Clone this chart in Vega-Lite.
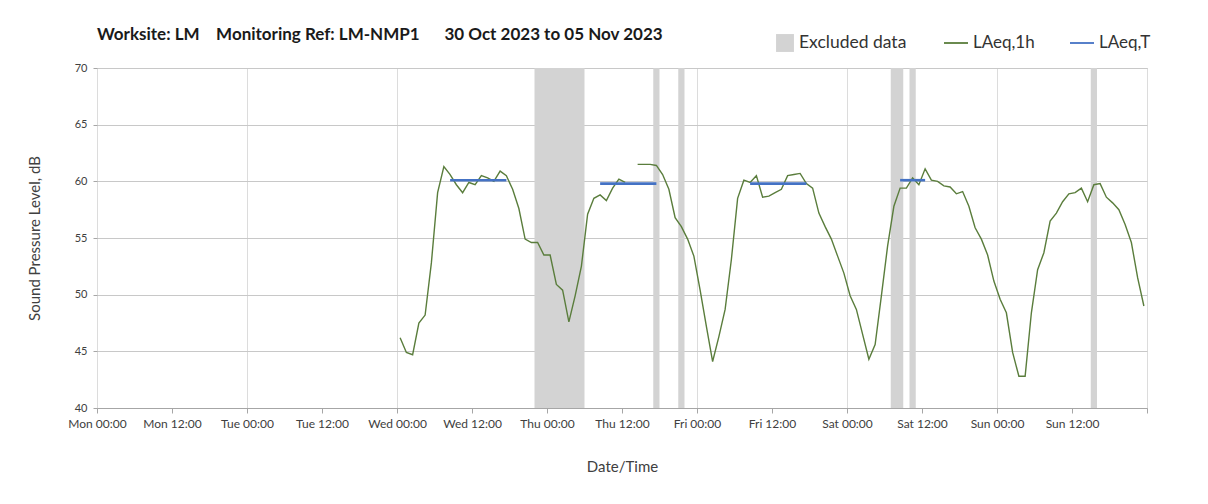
{
  "$schema": "https://vega.github.io/schema/vega-lite/v6.json",
  "width": 1050,
  "height": 340,
  "autosize": {"type": "none"},
  "padding": {"left": 97, "top": 68, "right": 61, "bottom": 96},
  "background": "white",
  "title": {
    "text": "Worksite: LM\u00a0\u00a0\u00a0\u00a0Monitoring Ref: LM-NMP1\u00a0\u00a0\u00a0\u00a0\u00a0\u00a030 Oct 2023 to 05 Nov 2023",
    "anchor": "start",
    "frame": "group",
    "font": "Lato",
    "fontSize": 17,
    "fontWeight": "bold",
    "color": "#1a1a1a",
    "offset": 16,
    "dy": 30
  },
  "config": {
    "font": "Lato",
    "view": {"stroke": "#bfbfbf", "strokeWidth": 1},
    "axis": {
      "labelFont": "Lato",
      "titleFont": "Lato",
      "labelColor": "#404040",
      "titleColor": "#404040",
      "titleFontWeight": "normal",
      "domainColor": "#a6a6a6",
      "tickColor": "#a6a6a6"
    }
  },
  "datasets": {
    "excluded": [
      {"start": "2023-11-01T22:00:00Z", "end": "2023-11-02T06:00:00Z", "kind": "Excluded data"},
      {"start": "2023-11-02T17:00:00Z", "end": "2023-11-02T18:00:00Z", "kind": "Excluded data"},
      {"start": "2023-11-02T21:00:00Z", "end": "2023-11-02T22:00:00Z", "kind": "Excluded data"},
      {"start": "2023-11-04T07:00:00Z", "end": "2023-11-04T09:00:00Z", "kind": "Excluded data"},
      {"start": "2023-11-04T10:00:00Z", "end": "2023-11-04T11:00:00Z", "kind": "Excluded data"},
      {"start": "2023-11-05T15:00:00Z", "end": "2023-11-05T16:00:00Z", "kind": "Excluded data"}
    ],
    "laeqT": [
      {"t": "2023-11-01T08:30:00Z", "v": 60.1, "series": "LAeq,T", "seg": "Wed"},
      {"t": "2023-11-01T17:30:00Z", "v": 60.1, "series": "LAeq,T", "seg": "Wed"},
      {"t": "2023-11-02T08:30:00Z", "v": 59.8, "series": "LAeq,T", "seg": "Thu"},
      {"t": "2023-11-02T17:30:00Z", "v": 59.8, "series": "LAeq,T", "seg": "Thu"},
      {"t": "2023-11-03T08:30:00Z", "v": 59.8, "series": "LAeq,T", "seg": "Fri"},
      {"t": "2023-11-03T17:30:00Z", "v": 59.8, "series": "LAeq,T", "seg": "Fri"},
      {"t": "2023-11-04T08:30:00Z", "v": 60.1, "series": "LAeq,T", "seg": "Sat"},
      {"t": "2023-11-04T12:30:00Z", "v": 60.1, "series": "LAeq,T", "seg": "Sat"}
    ],
    "laeq1h": [
      {"t": "2023-11-01T00:30:00Z", "v": 46.2, "series": "LAeq,1h", "seg": "a"},
      {"t": "2023-11-01T01:30:00Z", "v": 44.9, "series": "LAeq,1h", "seg": "a"},
      {"t": "2023-11-01T02:30:00Z", "v": 44.7, "series": "LAeq,1h", "seg": "a"},
      {"t": "2023-11-01T03:30:00Z", "v": 47.5, "series": "LAeq,1h", "seg": "a"},
      {"t": "2023-11-01T04:30:00Z", "v": 48.2, "series": "LAeq,1h", "seg": "a"},
      {"t": "2023-11-01T05:30:00Z", "v": 52.8, "series": "LAeq,1h", "seg": "a"},
      {"t": "2023-11-01T06:30:00Z", "v": 59.0, "series": "LAeq,1h", "seg": "a"},
      {"t": "2023-11-01T07:30:00Z", "v": 61.3, "series": "LAeq,1h", "seg": "a"},
      {"t": "2023-11-01T08:30:00Z", "v": 60.6, "series": "LAeq,1h", "seg": "a"},
      {"t": "2023-11-01T09:30:00Z", "v": 59.7, "series": "LAeq,1h", "seg": "a"},
      {"t": "2023-11-01T10:30:00Z", "v": 59.0, "series": "LAeq,1h", "seg": "a"},
      {"t": "2023-11-01T11:30:00Z", "v": 59.9, "series": "LAeq,1h", "seg": "a"},
      {"t": "2023-11-01T12:30:00Z", "v": 59.7, "series": "LAeq,1h", "seg": "a"},
      {"t": "2023-11-01T13:30:00Z", "v": 60.5, "series": "LAeq,1h", "seg": "a"},
      {"t": "2023-11-01T14:30:00Z", "v": 60.3, "series": "LAeq,1h", "seg": "a"},
      {"t": "2023-11-01T15:30:00Z", "v": 60.0, "series": "LAeq,1h", "seg": "a"},
      {"t": "2023-11-01T16:30:00Z", "v": 60.9, "series": "LAeq,1h", "seg": "a"},
      {"t": "2023-11-01T17:30:00Z", "v": 60.5, "series": "LAeq,1h", "seg": "a"},
      {"t": "2023-11-01T18:30:00Z", "v": 59.3, "series": "LAeq,1h", "seg": "a"},
      {"t": "2023-11-01T19:30:00Z", "v": 57.6, "series": "LAeq,1h", "seg": "a"},
      {"t": "2023-11-01T20:30:00Z", "v": 54.9, "series": "LAeq,1h", "seg": "a"},
      {"t": "2023-11-01T21:30:00Z", "v": 54.6, "series": "LAeq,1h", "seg": "a"},
      {"t": "2023-11-01T22:30:00Z", "v": 54.6, "series": "LAeq,1h", "seg": "a"},
      {"t": "2023-11-01T23:30:00Z", "v": 53.5, "series": "LAeq,1h", "seg": "a"},
      {"t": "2023-11-02T00:30:00Z", "v": 53.5, "series": "LAeq,1h", "seg": "a"},
      {"t": "2023-11-02T01:30:00Z", "v": 50.9, "series": "LAeq,1h", "seg": "a"},
      {"t": "2023-11-02T02:30:00Z", "v": 50.4, "series": "LAeq,1h", "seg": "a"},
      {"t": "2023-11-02T03:30:00Z", "v": 47.6, "series": "LAeq,1h", "seg": "a"},
      {"t": "2023-11-02T04:30:00Z", "v": 49.9, "series": "LAeq,1h", "seg": "a"},
      {"t": "2023-11-02T05:30:00Z", "v": 52.5, "series": "LAeq,1h", "seg": "a"},
      {"t": "2023-11-02T06:30:00Z", "v": 57.1, "series": "LAeq,1h", "seg": "a"},
      {"t": "2023-11-02T07:30:00Z", "v": 58.5, "series": "LAeq,1h", "seg": "a"},
      {"t": "2023-11-02T08:30:00Z", "v": 58.8, "series": "LAeq,1h", "seg": "a"},
      {"t": "2023-11-02T09:30:00Z", "v": 58.3, "series": "LAeq,1h", "seg": "a"},
      {"t": "2023-11-02T10:30:00Z", "v": 59.4, "series": "LAeq,1h", "seg": "a"},
      {"t": "2023-11-02T11:30:00Z", "v": 60.2, "series": "LAeq,1h", "seg": "a"},
      {"t": "2023-11-02T12:30:00Z", "v": 59.9, "series": "LAeq,1h", "seg": "a"},
      {"t": "2023-11-02T14:30:00Z", "v": 61.5, "series": "LAeq,1h", "seg": "b"},
      {"t": "2023-11-02T15:30:00Z", "v": 61.5, "series": "LAeq,1h", "seg": "b"},
      {"t": "2023-11-02T16:30:00Z", "v": 61.5, "series": "LAeq,1h", "seg": "b"},
      {"t": "2023-11-02T17:30:00Z", "v": 61.4, "series": "LAeq,1h", "seg": "b"},
      {"t": "2023-11-02T18:30:00Z", "v": 60.6, "series": "LAeq,1h", "seg": "b"},
      {"t": "2023-11-02T19:30:00Z", "v": 59.3, "series": "LAeq,1h", "seg": "b"},
      {"t": "2023-11-02T20:30:00Z", "v": 56.8, "series": "LAeq,1h", "seg": "b"},
      {"t": "2023-11-02T21:30:00Z", "v": 56.0, "series": "LAeq,1h", "seg": "b"},
      {"t": "2023-11-02T22:30:00Z", "v": 54.9, "series": "LAeq,1h", "seg": "b"},
      {"t": "2023-11-02T23:30:00Z", "v": 53.4, "series": "LAeq,1h", "seg": "b"},
      {"t": "2023-11-03T00:30:00Z", "v": 50.4, "series": "LAeq,1h", "seg": "b"},
      {"t": "2023-11-03T01:30:00Z", "v": 47.2, "series": "LAeq,1h", "seg": "b"},
      {"t": "2023-11-03T02:30:00Z", "v": 44.1, "series": "LAeq,1h", "seg": "b"},
      {"t": "2023-11-03T03:30:00Z", "v": 46.3, "series": "LAeq,1h", "seg": "b"},
      {"t": "2023-11-03T04:30:00Z", "v": 48.7, "series": "LAeq,1h", "seg": "b"},
      {"t": "2023-11-03T05:30:00Z", "v": 53.1, "series": "LAeq,1h", "seg": "b"},
      {"t": "2023-11-03T06:30:00Z", "v": 58.5, "series": "LAeq,1h", "seg": "b"},
      {"t": "2023-11-03T07:30:00Z", "v": 60.1, "series": "LAeq,1h", "seg": "b"},
      {"t": "2023-11-03T08:30:00Z", "v": 59.9, "series": "LAeq,1h", "seg": "b"},
      {"t": "2023-11-03T09:30:00Z", "v": 60.5, "series": "LAeq,1h", "seg": "b"},
      {"t": "2023-11-03T10:30:00Z", "v": 58.6, "series": "LAeq,1h", "seg": "b"},
      {"t": "2023-11-03T11:30:00Z", "v": 58.7, "series": "LAeq,1h", "seg": "b"},
      {"t": "2023-11-03T12:30:00Z", "v": 59.0, "series": "LAeq,1h", "seg": "b"},
      {"t": "2023-11-03T13:30:00Z", "v": 59.3, "series": "LAeq,1h", "seg": "b"},
      {"t": "2023-11-03T14:30:00Z", "v": 60.5, "series": "LAeq,1h", "seg": "b"},
      {"t": "2023-11-03T15:30:00Z", "v": 60.6, "series": "LAeq,1h", "seg": "b"},
      {"t": "2023-11-03T16:30:00Z", "v": 60.7, "series": "LAeq,1h", "seg": "b"},
      {"t": "2023-11-03T17:30:00Z", "v": 59.8, "series": "LAeq,1h", "seg": "b"},
      {"t": "2023-11-03T18:30:00Z", "v": 59.4, "series": "LAeq,1h", "seg": "b"},
      {"t": "2023-11-03T19:30:00Z", "v": 57.2, "series": "LAeq,1h", "seg": "b"},
      {"t": "2023-11-03T20:30:00Z", "v": 56.0, "series": "LAeq,1h", "seg": "b"},
      {"t": "2023-11-03T21:30:00Z", "v": 54.9, "series": "LAeq,1h", "seg": "b"},
      {"t": "2023-11-03T22:30:00Z", "v": 53.4, "series": "LAeq,1h", "seg": "b"},
      {"t": "2023-11-03T23:30:00Z", "v": 51.9, "series": "LAeq,1h", "seg": "b"},
      {"t": "2023-11-04T00:30:00Z", "v": 49.9, "series": "LAeq,1h", "seg": "b"},
      {"t": "2023-11-04T01:30:00Z", "v": 48.7, "series": "LAeq,1h", "seg": "b"},
      {"t": "2023-11-04T02:30:00Z", "v": 46.5, "series": "LAeq,1h", "seg": "b"},
      {"t": "2023-11-04T03:30:00Z", "v": 44.3, "series": "LAeq,1h", "seg": "b"},
      {"t": "2023-11-04T04:30:00Z", "v": 45.6, "series": "LAeq,1h", "seg": "b"},
      {"t": "2023-11-04T05:30:00Z", "v": 49.9, "series": "LAeq,1h", "seg": "b"},
      {"t": "2023-11-04T06:30:00Z", "v": 54.3, "series": "LAeq,1h", "seg": "b"},
      {"t": "2023-11-04T07:30:00Z", "v": 57.8, "series": "LAeq,1h", "seg": "b"},
      {"t": "2023-11-04T08:30:00Z", "v": 59.4, "series": "LAeq,1h", "seg": "b"},
      {"t": "2023-11-04T09:30:00Z", "v": 59.4, "series": "LAeq,1h", "seg": "b"},
      {"t": "2023-11-04T10:30:00Z", "v": 60.3, "series": "LAeq,1h", "seg": "b"},
      {"t": "2023-11-04T11:30:00Z", "v": 59.7, "series": "LAeq,1h", "seg": "b"},
      {"t": "2023-11-04T12:30:00Z", "v": 61.1, "series": "LAeq,1h", "seg": "b"},
      {"t": "2023-11-04T13:30:00Z", "v": 60.1, "series": "LAeq,1h", "seg": "b"},
      {"t": "2023-11-04T14:30:00Z", "v": 60.0, "series": "LAeq,1h", "seg": "b"},
      {"t": "2023-11-04T15:30:00Z", "v": 59.6, "series": "LAeq,1h", "seg": "b"},
      {"t": "2023-11-04T16:30:00Z", "v": 59.5, "series": "LAeq,1h", "seg": "b"},
      {"t": "2023-11-04T17:30:00Z", "v": 58.9, "series": "LAeq,1h", "seg": "b"},
      {"t": "2023-11-04T18:30:00Z", "v": 59.1, "series": "LAeq,1h", "seg": "b"},
      {"t": "2023-11-04T19:30:00Z", "v": 57.8, "series": "LAeq,1h", "seg": "b"},
      {"t": "2023-11-04T20:30:00Z", "v": 55.9, "series": "LAeq,1h", "seg": "b"},
      {"t": "2023-11-04T21:30:00Z", "v": 54.9, "series": "LAeq,1h", "seg": "b"},
      {"t": "2023-11-04T22:30:00Z", "v": 53.5, "series": "LAeq,1h", "seg": "b"},
      {"t": "2023-11-04T23:30:00Z", "v": 51.2, "series": "LAeq,1h", "seg": "b"},
      {"t": "2023-11-05T00:30:00Z", "v": 49.6, "series": "LAeq,1h", "seg": "b"},
      {"t": "2023-11-05T01:30:00Z", "v": 48.4, "series": "LAeq,1h", "seg": "b"},
      {"t": "2023-11-05T02:30:00Z", "v": 44.9, "series": "LAeq,1h", "seg": "b"},
      {"t": "2023-11-05T03:30:00Z", "v": 42.8, "series": "LAeq,1h", "seg": "b"},
      {"t": "2023-11-05T04:30:00Z", "v": 42.8, "series": "LAeq,1h", "seg": "b"},
      {"t": "2023-11-05T05:30:00Z", "v": 48.4, "series": "LAeq,1h", "seg": "b"},
      {"t": "2023-11-05T06:30:00Z", "v": 52.2, "series": "LAeq,1h", "seg": "b"},
      {"t": "2023-11-05T07:30:00Z", "v": 53.7, "series": "LAeq,1h", "seg": "b"},
      {"t": "2023-11-05T08:30:00Z", "v": 56.5, "series": "LAeq,1h", "seg": "b"},
      {"t": "2023-11-05T09:30:00Z", "v": 57.2, "series": "LAeq,1h", "seg": "b"},
      {"t": "2023-11-05T10:30:00Z", "v": 58.2, "series": "LAeq,1h", "seg": "b"},
      {"t": "2023-11-05T11:30:00Z", "v": 58.9, "series": "LAeq,1h", "seg": "b"},
      {"t": "2023-11-05T12:30:00Z", "v": 59.0, "series": "LAeq,1h", "seg": "b"},
      {"t": "2023-11-05T13:30:00Z", "v": 59.4, "series": "LAeq,1h", "seg": "b"},
      {"t": "2023-11-05T14:30:00Z", "v": 58.2, "series": "LAeq,1h", "seg": "b"},
      {"t": "2023-11-05T15:30:00Z", "v": 59.7, "series": "LAeq,1h", "seg": "b"},
      {"t": "2023-11-05T16:30:00Z", "v": 59.8, "series": "LAeq,1h", "seg": "b"},
      {"t": "2023-11-05T17:30:00Z", "v": 58.6, "series": "LAeq,1h", "seg": "b"},
      {"t": "2023-11-05T18:30:00Z", "v": 58.1, "series": "LAeq,1h", "seg": "b"},
      {"t": "2023-11-05T19:30:00Z", "v": 57.5, "series": "LAeq,1h", "seg": "b"},
      {"t": "2023-11-05T20:30:00Z", "v": 56.2, "series": "LAeq,1h", "seg": "b"},
      {"t": "2023-11-05T21:30:00Z", "v": 54.6, "series": "LAeq,1h", "seg": "b"},
      {"t": "2023-11-05T22:30:00Z", "v": 51.5, "series": "LAeq,1h", "seg": "b"},
      {"t": "2023-11-05T23:30:00Z", "v": 49.0, "series": "LAeq,1h", "seg": "b"}
    ]
  },
  "layer": [
    {
      "data": {"name": "excluded"},
      "mark": {"type": "rect"},
      "encoding": {
        "x": {
          "field": "start", "type": "temporal",
          "scale": {"type": "utc", "domain": [{"year": 2023, "month": 10, "date": 30, "utc": true}, {"year": 2023, "month": 11, "date": 6, "utc": true}]},
          "axis": {
            "title": "Date/Time",
            "titleFontSize": 15,
            "titlePadding": 30,
            "tickCount": 14,
            "format": "%a %H:%M",
            "labelExpr": "datum.value >= 1699228800000 ? '' : datum.label",
            "labelAngle": 0,
            "labelFontSize": 12,
            "labelPadding": 5,
            "labelOverlap": false,
            "labelFlush": false,
            "tickSize": 5,
            "grid": true,
            "gridColor": "#dcdcdc",
            "gridOpacity": {"condition": {"test": "utchours(datum.value) === 0", "value": 1}, "value": 0}
          }
        },
        "x2": {"field": "end"},
        "fill": {
          "field": "kind", "type": "nominal",
          "scale": {"domain": ["Excluded data"], "range": ["#d3d3d3"]},
          "legend": {
            "title": null,
            "orient": "none",
            "legendX": 678,
            "legendY": -35,
            "symbolType": "square",
            "symbolSize": 320,
            "labelFont": "Lato",
            "labelFontSize": 17.5,
            "labelColor": "#333333"
          }
        }
      }
    },
    {
      "data": {"name": "laeq1h"},
      "mark": {"type": "line", "strokeWidth": 1.4},
      "encoding": {
        "x": {"field": "t", "type": "temporal"},
        "y": {
          "field": "v", "type": "quantitative",
          "scale": {"domain": [40, 70], "nice": false, "zero": false},
          "axis": {
            "title": "Sound Pressure Level, dB",
            "titleFontSize": 15,
            "titlePadding": 32,
            "values": [40, 45, 50, 55, 60, 65, 70],
            "labelFontSize": 11,
            "labelPadding": 6,
            "tickSize": 4,
            "grid": true,
            "gridColor": "#c8c8c8",
            "domain": false
          }
        },
        "detail": {"field": "seg", "type": "nominal"},
        "stroke": {
          "field": "series", "type": "nominal",
          "scale": {"domain": ["LAeq,1h", "LAeq,T"], "range": ["#5a7d3c", "#4472c4"]},
          "legend": {
            "title": null,
            "orient": "none",
            "direction": "horizontal",
            "legendX": 846,
            "legendY": -38,
            "symbolType": "stroke",
            "symbolSize": 576,
            "symbolStrokeWidth": 1.8,
            "labelFont": "Lato",
            "labelFontSize": 17,
            "labelColor": "#333333",
            "columnPadding": 31
          }
        }
      }
    },
    {
      "data": {"name": "laeqT"},
      "mark": {"type": "line", "strokeWidth": 2.6},
      "encoding": {
        "x": {"field": "t", "type": "temporal"},
        "y": {"field": "v", "type": "quantitative"},
        "detail": {"field": "seg", "type": "nominal"},
        "stroke": {"field": "series", "type": "nominal"}
      }
    }
  ]
}
